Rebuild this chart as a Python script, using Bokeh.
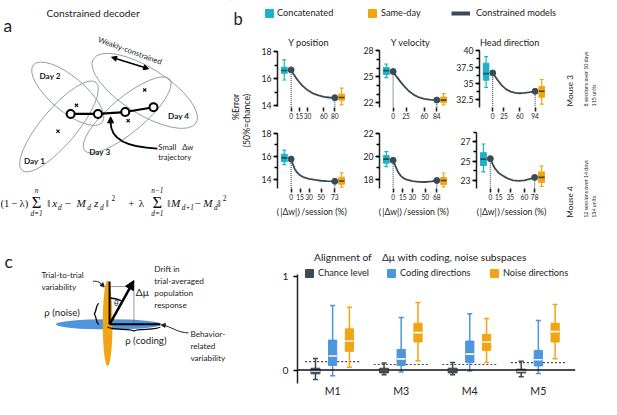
import math
from bokeh.plotting import figure
from bokeh.models import Range1d, Label, Arrow, NormalHead, FixedTicker, Span, Legend, LegendItem
from bokeh.layouts import row, column
from bokeh.embed import file_html
from bokeh.resources import INLINE

# ======================= DATA =======================
# Panel b: decoding error (%Error, 50% = chance) vs <|Δw|>/session (%)
b_titles = ["Y position", "Y velocity", "Head direction"]

m3_ypos_dw = [0, 5, 10, 15, 20, 30, 40, 50, 60, 70, 80]
m3_ypos_err = [16.65, 16.30, 16.00, 15.75, 15.50, 15.15, 14.90, 14.76, 14.65, 14.60, 14.58]
m3_ypos_ticks = [0, 15, 30, 60, 80]
m3_ypos_concat = [15.9, 16.4, 16.6, 16.85, 17.4]      # whisker lo, q1, median, q3, whisker hi
m3_ypos_same = [14.05, 14.4, 14.6, 14.85, 15.3]

m3_yvel_dw = [0, 5, 10, 15, 20, 30, 40, 50, 60, 70, 84]
m3_yvel_err = [25.6, 25.15, 24.75, 24.35, 24.0, 23.35, 22.9, 22.6, 22.45, 22.35, 22.3]
m3_yvel_ticks = [0, 25, 60, 84]
m3_yvel_concat = [24.9, 25.25, 25.7, 26.05, 26.45]
m3_yvel_same = [21.75, 22.0, 22.3, 22.65, 23.05]

m3_head_dw = [0, 10, 20, 30, 40, 50, 60, 70, 80, 94]
m3_head_err = [36.6, 35.6, 34.7, 34.1, 33.75, 33.55, 33.5, 33.55, 33.65, 33.8]
m3_head_ticks = [0, 25, 60, 94]
m3_head_concat = [34.4, 35.5, 36.5, 38.1, 39.1]
m3_head_same = [31.85, 32.9, 33.8, 34.55, 35.6]

m4_ypos_dw = [0, 3, 6, 10, 15, 20, 30, 40, 50, 60, 73]
m4_ypos_err = [15.75, 15.3, 14.9, 14.6, 14.35, 14.2, 14.05, 13.95, 13.88, 13.85, 13.83]
m4_ypos_ticks = [0, 15, 30, 50, 73]
m4_ypos_concat = [15.28, 15.53, 15.86, 16.17, 16.53]
m4_ypos_same = [13.33, 13.58, 13.86, 14.17, 14.56]

m4_yvel_dw = [0, 4, 8, 12, 16, 20, 30, 40, 50, 60, 68]
m4_yvel_err = [19.65, 19.1, 18.6, 18.3, 18.1, 18.0, 17.85, 17.78, 17.77, 17.82, 17.9]
m4_yvel_ticks = [0, 15, 30, 50, 68]
m4_yvel_concat = [19.1, 19.4, 19.75, 20.05, 20.4]
m4_yvel_same = [17.35, 17.55, 17.9, 18.15, 18.55]

m4_head_dw = [0, 4, 8, 12, 16, 20, 30, 40, 50, 60, 70, 78]
m4_head_err = [25.25, 24.7, 24.25, 23.95, 23.7, 23.55, 23.2, 23.0, 22.95, 23.0, 23.15, 23.3]
m4_head_ticks = [0, 15, 35, 60, 78]
m4_head_concat = [23.87, 24.53, 25.2, 25.87, 26.77]
m4_head_same = [22.37, 22.77, 23.3, 23.87, 24.47]

# Panel d: alignment rho of Δμ with coding / noise subspaces
d_groups = ["M1", "M3", "M4", "M5"]
chance_lo = [-0.10, -0.05, -0.05, -0.07]
chance_q1 = [-0.04, -0.03, -0.03, -0.03]
chance_med = [-0.01, 0.0, 0.0, -0.01]
chance_q3 = [0.02, 0.02, 0.02, 0.01]
chance_hi = [0.125, 0.075, 0.08, 0.095]
coding_lo = [-0.06, -0.02, -0.01, -0.035]
coding_q1 = [0.05, 0.05, 0.08, 0.045]
coding_med = [0.15, 0.12, 0.17, 0.11]
coding_q3 = [0.32, 0.22, 0.31, 0.21]
coding_hi = [0.69, 0.56, 0.60, 0.53]
noise_lo = [0.03, 0.10, 0.08, 0.12]
noise_q1 = [0.20, 0.30, 0.21, 0.30]
noise_med = [0.31, 0.40, 0.30, 0.41]
noise_q3 = [0.44, 0.50, 0.38, 0.50]
noise_hi = [0.67, 0.72, 0.55, 0.70]
chance_level_line = [0.09, 0.06, 0.06, 0.08]

# ======================= STYLE / LAYOUT =======================
FONT = "Lato"
SERIF = "Liberation Serif"
CYAN = "#1db3c6"
ORANGE = "#f1a512"
DARK = "#3b4a55"
BLUE = "#4d95dc"
GRAY = "#959daa"
TXT = "#222222"
SX = 601 / 617
SY = 399 / 415
FS = (SX + SY) / 2


def W(x0, x1):
    return round(x1 * SX) - round(x0 * SX)


def H(y0, y1):
    return round(y1 * SY) - round(y0 * SY)


def fs(px):
    return "%.1fpx" % (px * FS)


def canvas(x0, x1, y0, y1):
    return figure(width=W(x0, x1), height=H(y0, y1), x_range=Range1d(x0, x1),
                  y_range=Range1d(y1, y0), x_axis_type=None, y_axis_type=None,
                  toolbar_location=None, output_backend="svg", min_border=0,
                  outline_line_color=None)


def lab(p, x, y, text, size, align="left", baseline="middle", style="normal",
        font=FONT, angle=0.0, color=TXT):
    p.add_layout(Label(x=x, y=y, text=text, text_font=font, text_font_size=fs(size),
                       text_align=align, text_baseline=baseline, text_font_style=style,
                       angle=angle, text_color=color))


def rad(d):
    return d * math.pi / 180.0


# ======================= PANEL A =======================
A = canvas(0, 235, 0, 260)
lab(A, 3, 26, "a", 18, baseline="alphabetic")
lab(A, 95, 13, "Constrained decoder", 10.5, align="center")

day_cx = [60, 69, 130, 148]
day_cy = [131, 97, 119, 94]
day_w = [118, 92, 114, 124]
day_h = [37, 36, 36, 48]
day_ang = [50, -40, 40, -32]
A.ellipse(x=day_cx, y=day_cy, width=day_w, height=day_h, angle=[rad(a) for a in day_ang],
          fill_color=None, line_color=GRAY, line_width=1)
day_txt = ["Day 1", "Day 2", "Day 3", "Day 4"]
day_lx = [24, 40, 91, 172]
day_ly = [167, 78, 158, 120]
for t, x, y in zip(day_txt, day_lx, day_ly):
    lab(A, x, y, t, 8.5, style="bold")
mean_x = [59, 78, 131, 148]
mean_y = [136, 109, 125, 93]
A.scatter(mean_x, mean_y, marker="x", size=4.5, line_color="#111", line_width=1.2)
traj_x = [72, 100, 128, 157]
traj_y = [118, 118, 116, 111]
A.line(traj_x, traj_y, line_color="black", line_width=2.2)
A.scatter(traj_x, traj_y, marker="circle", size=8, fill_color="white", line_color="black",
          line_width=2)

lab(A, 133, 52, "Weakly-constrained", 8, align="center", angle=rad(-20))
A.add_layout(Arrow(start=NormalHead(size=5, fill_color="black", line_color="black"),
                   end=NormalHead(size=5, fill_color="black", line_color="black"),
                   x_start=114, y_start=59, x_end=152, y_end=71, line_width=1.5))
lab(A, 162, 152, "Small \u00a0\u00a0Δw", 8)
lab(A, 162, 163, "trajectory", 8)
A.bezier(x0=[161], y0=[154], x1=[113], y1=[127], cx0=[130], cy0=[153], cx1=[113], cy1=[145],
         line_color="black", line_width=1.8)
A.add_layout(Arrow(end=NormalHead(size=6, fill_color="black", line_color="black"), start=None,
                   x_start=113, y_start=128, x_end=113, y_end=121, line_width=1.5))

# formula
f_txt = ["(1\u2009−\u2009λ)", "‖", "x", "d", "−", "M", "d", "z", "d", "‖", "2", "+", "λ",
         "‖", "M", "d+1", "−", "M", "d", "‖", "2"]
f_x = [0, 48, 53, 59, 66, 78, 89, 96, 102, 108, 114, 131, 142,
       171, 175, 186, 199, 208, 219, 223, 228]
f_y = [211, 211, 211, 215, 211, 211, 215, 211, 215, 211, 205, 211, 211,
       211, 211, 215, 211, 211, 215, 211, 205]
f_s = [11, 11, 11.5, 7.5, 11.5, 11.5, 7.5, 11.5, 7.5, 11, 7.5, 11.5, 11.5,
       11, 11.5, 7.5, 11.5, 11.5, 7.5, 11, 7.5]
f_st = ["normal", "normal", "italic", "italic", "normal", "italic", "italic", "italic", "italic",
        "normal", "normal", "normal", "normal", "normal", "italic", "italic", "normal",
        "italic", "italic", "normal", "normal"]
for t, x, y, s, st in zip(f_txt, f_x, f_y, f_s, f_st):
    lab(A, x, y, t, s, style=st, font=SERIF, color="#111")
for sx_, lim_hi in [(37, "n"), (161, "n−1")]:
    lab(A, sx_, 210, "Σ", 17, align="center", font=SERIF, color="#111")
    lab(A, sx_, 198, lim_hi, 7.5, align="center", style="italic", font=SERIF, color="#111")
    lab(A, sx_, 222, "d=1", 7.5, align="center", style="italic", font=SERIF, color="#111")

# ======================= PANEL B =======================
head = canvas(235, 617, 0, 32)
lab(head, 239, 19, "b", 17)
OUT = [-1000]
pc = head.vbar(x=OUT, top=OUT, bottom=[-1001], width=1, fill_color=CYAN, line_color=CYAN)
po = head.vbar(x=OUT, top=OUT, bottom=[-1001], width=1, fill_color=ORANGE, line_color=ORANGE)
pl = head.line(x=[-1000, -999], y=[-1000, -1000], line_color=DARK, line_width=4)
for rend, txt, lx, gw, so in [(pc, "Concatenated", 271, 10, 3), (po, "Same-day", 377, 10, 4),
                              (pl, "Constrained models", 463, 19, 6)]:
    head.add_layout(Legend(items=[LegendItem(label=txt, renderers=[rend])],
                           location=(round((lx - 235) * SX), round(14 * SY)),
                           orientation="horizontal", padding=0, margin=0, border_line_color=None,
                           background_fill_alpha=0, glyph_width=gw, glyph_height=10,
                           label_height=10, label_standoff=so, label_text_font=FONT,
                           label_text_font_size=fs(9.5), label_text_color=TXT))

Bleft = canvas(235, 258, 32, 232)
lab(Bleft, 241, 97, "%Error", 9, align="right", angle=math.pi / 2)
lab(Bleft, 253, 97, "(50%=chance)", 9, align="right", angle=math.pi / 2)

Bright = canvas(575, 617, 32, 232)
for yb, m, s1, s2 in [(110, "Mouse 3", "8 sessions over 10 days", "115 units"),
                      (226, "Mouse 4", "12 sessions over 14 days", "134 units")]:
    lab(Bright, 585, yb, m, 8.5, angle=math.pi / 2)
    lab(Bright, 601, yb, s1, 5.5, angle=math.pi / 2)
    lab(Bright, 609, yb, s2, 5.5, angle=math.pi / 2)
Bbottom = canvas(235, 617, 232, 260)


def box(p, pos, stats, color, bw, cap, med_color, lw=1.2):
    lo, q1, med, q3, hi = stats
    p.segment(x0=[pos], y0=[lo], x1=[pos], y1=[hi], line_color=color, line_width=lw)
    p.segment(x0=[pos - cap / 2, pos - cap / 2], y0=[lo, hi], x1=[pos + cap / 2, pos + cap / 2],
              y1=[lo, hi], line_color=color, line_width=lw)
    r = p.vbar(x=[pos], bottom=[q1], top=[q3], width=bw, fill_color=color, line_color=color)
    p.segment(x0=[pos - bw / 2], y0=[med], x1=[pos + bw / 2], y1=[med], line_color=med_color,
              line_width=1.6)
    return r


def make_sub(x0, x1, y0, y1, axis_px, ftop, fbot, title, dw, err, ticks, concat, same,
             cal, ymaj, ymin, ybounds, xlabel):
    width, height = W(x0, x1), H(y0, y1)
    fl = round(axis_px * SX) - round(x0 * SX)
    fr = round((axis_px + 70) * SX) - round(x0 * SX)
    ft = round(ftop * SY) - round(y0 * SY)
    fb = round(fbot * SY) - round(y0 * SY)
    xmax = ticks[-1]
    ppu = 45.0 / xmax
    (p1, v1), (p2, v2) = cal
    ppy = (p2 - p1) / (v1 - v2)

    def yv(py):
        return v1 - (py - p1) / ppy

    yr = Range1d(yv(fbot), yv(ftop))
    p = figure(width=width, height=height, x_range=Range1d(-14 / ppu, 56 / ppu),
               y_range=yr, toolbar_location=None, output_backend="svg", min_border_left=fl,
               min_border_right=width - fr, min_border_top=ft, min_border_bottom=height - fb,
               outline_line_color=None)
    p.xgrid.visible = False
    p.ygrid.visible = False
    ya = p.yaxis[0]
    ya.ticker = FixedTicker(ticks=ymaj, minor_ticks=ymin)
    ya.bounds = ybounds
    ya.axis_line_width = 1.5
    ya.axis_line_color = "#222"
    ya.major_tick_out, ya.major_tick_in = 4, 0
    ya.minor_tick_out, ya.minor_tick_in = 3, 0
    ya.major_tick_line_width = 1.3
    ya.minor_tick_line_width = 1.3
    ya.major_label_standoff = 2
    ya.major_label_text_font = FONT
    ya.major_label_text_font_size = fs(9)
    ya.major_label_text_color = TXT
    xa = p.xaxis[0]
    xa.ticker = FixedTicker(ticks=ticks)
    xa.axis_line_color = None
    xa.major_tick_out, xa.major_tick_in = 4, 0
    xa.minor_tick_out, xa.minor_tick_in = 0, 0
    xa.major_tick_line_width = 1.6
    xa.major_tick_line_color = "#222"
    xa.minor_tick_line_color = None
    xa.major_label_standoff = 1
    xa.major_label_text_font = FONT
    xa.major_label_text_font_size = fs(6.8)
    xa.major_label_text_color = TXT
    if xlabel:
        xa.axis_label = "⟨|Δw|⟩/session (%)"
        xa.axis_label_text_font = FONT
        xa.axis_label_text_font_size = fs(9)
        xa.axis_label_text_font_style = "normal"
        xa.axis_label_text_color = TXT
        xa.axis_label_standoff = 3
    ybot = yr.start
    p.segment(x0=[dw[0], dw[-1]], y0=[err[0], err[-1]], x1=[dw[0], dw[-1]], y1=[ybot, ybot],
              line_color=DARK, line_width=1.1, line_dash="1 1")
    p.line(dw, err, line_color=DARK, line_width=1.8)
    p.scatter([dw[0], dw[-1]], [err[0], err[-1]], size=6, color=DARK)
    bw, cap = 6 / ppu, 4 / ppu
    box(p, -7 / ppu, concat, CYAN, bw, cap, "#2f4a55")
    box(p, xmax + 7 / ppu, same, ORANGE, bw, cap, "#4a4030")
    if title:
        p.add_layout(Label(x=18 / ppu, y=yv(43), text=title, text_font=FONT,
                           text_font_size=fs(9.5), text_align="center", text_baseline="middle",
                           text_color=TXT))
    return p


cols = [(258, 365, 284), (365, 465, 389), (465, 575, 489)]
top_cfg = [
    (m3_ypos_dw, m3_ypos_err, m3_ypos_ticks, m3_ypos_concat, m3_ypos_same,
     ((53, 18), (109, 14)), [14, 16, 18], [14, 15, 16, 17, 18], (13.9, 18)),
    (m3_yvel_dw, m3_yvel_err, m3_yvel_ticks, m3_yvel_concat, m3_yvel_same,
     ((52, 28), (106, 22)), [22, 25, 28], [22, 23, 24, 25, 26, 27, 28], (21.45, 28)),
    (m3_head_dw, m3_head_err, m3_head_ticks, m3_head_concat, m3_head_same,
     ((52, 40), (103, 32.5)), [32.5, 35, 37.5, 40], [32.5, 33.75, 35, 36.25, 37.5, 38.75, 40],
     (31.35, 40)),
]
bot_cfg = [
    (m4_ypos_dw, m4_ypos_err, m4_ypos_ticks, m4_ypos_concat, m4_ypos_same,
     ((138, 18), (186, 14)), [14, 16, 18], [14, 15, 16, 17, 18], (13.25, 18)),
    (m4_yvel_dw, m4_yvel_err, m4_yvel_ticks, m4_yvel_concat, m4_yvel_same,
     ((138, 22), (186, 18)), [18, 20, 22], [18, 19, 20, 21, 22], (17.25, 22)),
    (m4_head_dw, m4_head_err, m4_head_ticks, m4_head_concat, m4_head_same,
     ((147, 27), (187, 23)), [23, 25, 27], [23, 24, 25, 26, 27, 28], (22.2, 28)),
]
row1, row2 = [], []
for i, ((x0, x1, ax), c) in enumerate(zip(cols, top_cfg)):
    row1.append(make_sub(x0, x1, 32, 127, ax, 32, 111, b_titles[i], *c, False))
for i, ((x0, x1, ax), c) in enumerate(zip(cols, bot_cfg)):
    row2.append(make_sub(x0, x1, 127, 232, ax, 127, 195.5, None, *c, True))

Bblock = column(head, row(Bleft, column(row(*row1), row(*row2)), Bright), Bbottom)

# ======================= PANEL C =======================
C = canvas(0, 268, 260, 415)
lab(C, 4, 273, "c", 18, baseline="alphabetic")
C.ellipse(x=[111], y=[346], width=[108], height=[12], fill_color=BLUE, line_color=None)
C.ellipse(x=[110], y=[345], width=[10], height=[100], fill_color=ORANGE, line_color=None)
C.segment(x0=[112, 112], y0=[346, 346], x1=[112, 164], y1=[296, 346], line_color="black",
          line_width=2)
C.segment(x0=[112, 137], y0=[302, 302], x1=[137, 137], y1=[302, 345], line_color="#333",
          line_width=1, line_dash="1 1")
C.add_layout(Arrow(end=NormalHead(size=9, fill_color="black", line_color="black"), start=None,
                   x_start=112, y_start=346, x_end=137, y_end=295, line_width=2.5))
C.arc(x=[112], y=[346], radius=[27], start_angle=[rad(64)], end_angle=[rad(90)],
      direction="anticlock", line_color="black", line_width=1.4)
lab(C, 119, 321, "θ", 8, align="center")
lab(C, 139, 308, "Δμ", 10.5)
# braces
br_x0 = [101, 96, 110, 137]
br_y0 = [322, 334, 349, 354]
br_x1 = [96, 101, 137, 164]
br_y1 = [334, 346, 354, 349]
br_cx0 = [98, 98.5, 110, 138]
br_cy0 = [322, 335, 353, 351]
br_cx1 = [98.5, 98, 136, 164]
br_cy1 = [333, 346, 351, 353]
C.bezier(x0=br_x0, y0=br_y0, x1=br_x1, y1=br_y1, cx0=br_cx0, cy0=br_cy0, cx1=br_cx1,
         cy1=br_cy1, line_color="black", line_width=1.3)
lab(C, 45, 332, "ρ (noise)", 10)
lab(C, 128, 364, "ρ (coding)", 10)
for t, y in [("Trial-to-trial", 288), ("variability", 302)]:
    lab(C, 42, y, t, 8.5)
for t, y in [("Drift in", 282), ("trial-averaged", 296), ("population", 310), ("response", 324)]:
    lab(C, 158, y, t, 8.5)
for t, y in [("Behavior-", 357), ("related", 371), ("variability", 385)]:
    lab(C, 195, y, t, 8.5)
C.bezier(x0=[95, 193], y0=[296, 356], x1=[105, 167], y1=[301, 347], cx0=[100, 182],
         cy0=[295, 356], cx1=[103, 174], cy1=[298, 348], line_color="#222", line_width=1)
C.add_layout(Arrow(end=NormalHead(size=4, fill_color="#222", line_color="#222"), start=None,
                   x_start=104, y_start=299.5, x_end=106.5, y_end=302.5, line_width=1))
C.add_layout(Arrow(end=NormalHead(size=4, fill_color="#222", line_color="#222"), start=None,
                   x_start=169, y_start=347.3, x_end=165, y_end=346.8, line_width=1))

# ======================= PANEL D =======================
DW, DH = W(268, 617), H(260, 415)
d_fl = round(305 * SX) - round(268 * SX)
d_fr = round(590 * SX) - round(268 * SX)
d_fb = round(399 * SY) - round(260 * SY)
D_PX = 70.3      # ref px per group
D_Y0, D_PY = 385.0, 98.0


def dx(px):
    return (px - 341.0) / D_PX


def dy(py):
    return (D_Y0 - py) / D_PY


D = figure(width=DW, height=DH, x_range=Range1d(dx(305), dx(590)),
           y_range=Range1d(dy(399), dy(260)),
           toolbar_location=None, output_backend="svg", min_border_left=d_fl,
           min_border_right=DW - d_fr, min_border_top=0, min_border_bottom=DH - d_fb,
           outline_line_color=None)
D.xgrid.visible = False
D.ygrid.visible = False
ya = D.yaxis[0]
ya.ticker = FixedTicker(ticks=[0, 1])
ya.bounds = (dy(400), 1.02)
ya.axis_line_width = 1.5
ya.axis_line_color = "#222"
ya.major_tick_out, ya.major_tick_in = 4, 0
ya.minor_tick_out, ya.minor_tick_in = 0, 0
ya.major_tick_line_width = 1.3
ya.minor_tick_line_color = None
ya.major_label_standoff = 5
ya.major_label_text_font = FONT
ya.major_label_text_font_size = fs(10.5)
ya.major_label_text_color = TXT
xa = D.xaxis[0]
xa.ticker = FixedTicker(ticks=list(range(len(d_groups))))
xa.major_label_overrides = {i: g for i, g in enumerate(d_groups)}
xa.axis_line_color = None
xa.major_tick_out, xa.major_tick_in = 0, 0
xa.minor_tick_out, xa.minor_tick_in = 0, 0
xa.major_tick_line_color = None
xa.minor_tick_line_color = None
xa.major_label_standoff = 1
xa.major_label_text_font = FONT
xa.major_label_text_font_size = fs(11)
xa.major_label_text_color = TXT

D.add_layout(Span(location=0, dimension="width", line_color="#111", line_width=1.5))
gpos = list(range(len(d_groups)))
D.segment(x0=[g - 0.4 for g in gpos], y0=chance_level_line, x1=[g + 0.4 for g in gpos],
          y1=chance_level_line, line_color="#444", line_width=1.2, line_dash="2 2")
legend_r = {}
for name, lo, q1, med, q3, hi, color, off, bw in [
        ("Chance level", chance_lo, chance_q1, chance_med, chance_q3, chance_hi, DARK, -0.25, 0.13),
        ("Coding directions", coding_lo, coding_q1, coding_med, coding_q3, coding_hi, BLUE, 0.0, 0.12),
        ("Noise directions", noise_lo, noise_q1, noise_med, noise_q3, noise_hi, ORANGE, 0.245, 0.12)]:
    for i, g in enumerate(gpos):
        r = box(D, g + off, [lo[i], q1[i], med[i], q3[i], hi[i]], color, bw, 0.075, "white",
                lw=1.5)
    legend_r[name] = r
for (name, lx) in [("Chance level", 312), ("Coding directions", 396), ("Noise directions", 502)]:
    D.add_layout(Legend(items=[LegendItem(label=name, renderers=[legend_r[name]])],
                        location=(round((lx - 305) * SX), round((399 - 290) * SY)),
                        orientation="horizontal", padding=0, margin=0,
                        border_line_color=None, background_fill_alpha=0, glyph_width=10,
                        glyph_height=10, label_height=10, label_standoff=4, label_text_font=FONT,
                        label_text_font_size=fs(9.5), label_text_color=TXT))
D.add_layout(Label(x=dx(322), y=dy(267),
                   text="Alignment of \u00a0\u00a0\u00a0Δμ with coding, noise subspaces",
                   text_font=FONT, text_font_size=fs(10.5), text_align="left",
                   text_baseline="middle", text_color=TXT))
D.add_layout(Label(x=dx(294), y=dy(336), text="ρ", text_font=FONT, text_font_size=fs(11),
                   text_align="center", text_baseline="middle", text_color=TXT))
D.add_layout(Label(x=dx(270), y=dy(273), text="d", text_font=FONT, text_font_size=fs(18),
                   text_align="left", text_baseline="alphabetic", text_color=TXT))

page = column(row(A, Bblock), row(C, D))
open("out.html", "w").write(file_html(page, INLINE))
